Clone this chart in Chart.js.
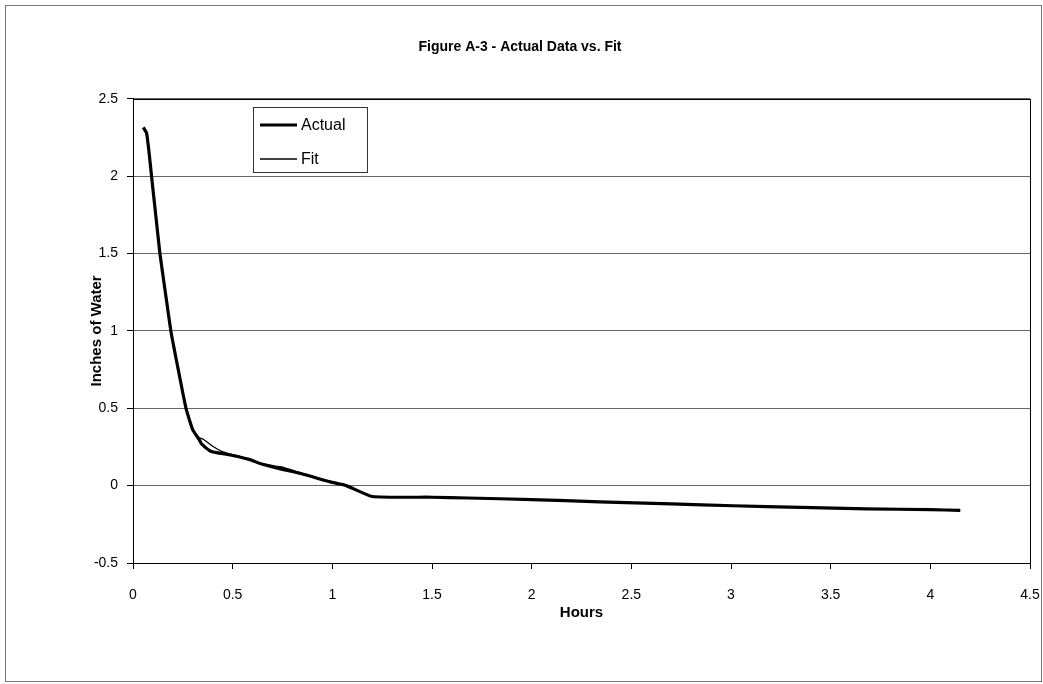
<!DOCTYPE html>
<html><head><meta charset="utf-8">
<script src="https://cdn.jsdelivr.net/npm/chart.js@4"></script>
<style>html,body{margin:0;padding:0;background:#fff;} canvas{display:block;}</style>
</head><body>
<canvas id="c" width="1043" height="684"></canvas>
<script>
const chartTitle = 'Figure A-3 - Actual Data vs. Fit';
const xAxisTitle = 'Hours';
const yAxisTitle = 'Inches of Water';
const seriesNames = ['Actual', 'Fit'];

const actualHours  = [0.052, 0.068, 0.080, 0.093, 0.114, 0.135, 0.160, 0.190, 0.230, 0.266, 0.300, 0.333, 0.344, 0.386, 0.420, 0.500, 0.587, 0.637, 0.740, 0.850, 0.990, 1.070, 1.200, 1.500, 1.680, 2.000, 2.340, 2.700, 3.010, 3.350, 3.680, 4.000, 4.150];
const actualInches = [2.315, 2.280, 2.160, 2.000, 1.750, 1.500, 1.270, 1.000, 0.730, 0.500, 0.360, 0.295, 0.270, 0.225, 0.213, 0.195, 0.168, 0.143, 0.108, 0.075, 0.024, 0.000, -0.070, -0.075, -0.080, -0.090, -0.105, -0.118, -0.130, -0.140, -0.150, -0.155, -0.160];

const fitHours  = [0.052, 0.068, 0.080, 0.093, 0.114, 0.135, 0.160, 0.190, 0.230, 0.266, 0.300, 0.333, 0.353, 0.400, 0.445, 0.500, 0.587, 0.637, 0.740, 0.850, 0.990, 1.070, 1.200, 1.500, 1.680, 2.000, 2.340, 2.700, 3.010, 3.350, 3.680, 4.000, 4.150];
const fitInches = [2.305, 2.270, 2.150, 2.000, 1.750, 1.500, 1.270, 1.000, 0.730, 0.500, 0.360, 0.310, 0.300, 0.255, 0.222, 0.200, 0.170, 0.145, 0.122, 0.080, 0.026, 0.000, -0.068, -0.075, -0.080, -0.090, -0.105, -0.118, -0.130, -0.140, -0.150, -0.155, -0.160];

const FONT = "'Liberation Sans', Arial, sans-serif";

const toPoints = (xs, ys) => xs.map((x, i) => ({x: x, y: ys[i]}));

const framePlugin = {
  id: 'frame',
  afterDraw(chart) {
    const ctx = chart.ctx;
    const a = chart.chartArea;
    ctx.save();
    ctx.strokeStyle = '#000';
    ctx.lineWidth = 1;
    ctx.strokeRect(Math.round(a.left) + 0.5, Math.round(a.top) + 0.5, Math.round(a.right - a.left), Math.round(a.bottom - a.top));
    ctx.strokeStyle = '#777';
    ctx.strokeRect(5.5, 5.5, chart.width - 7, chart.height - 8);
    const bx = 253, by = 107, bw = 114, bh = 65;
    ctx.fillStyle = '#fff';
    ctx.fillRect(bx, by, bw, bh);
    ctx.strokeStyle = '#333';
    ctx.strokeRect(bx + 0.5, by + 0.5, bw, bh);
    ctx.font = '16px ' + FONT;
    ctx.textBaseline = 'middle';
    ctx.textAlign = 'left';
    chart.data.datasets.forEach((ds, i) => {
      const y = by + 18 + i * 34;
      ctx.beginPath();
      ctx.strokeStyle = ds.borderColor;
      ctx.lineWidth = ds.borderWidth;
      ctx.moveTo(bx + 7, y);
      ctx.lineTo(bx + 44, y);
      ctx.stroke();
      ctx.fillStyle = '#000';
      ctx.fillText(ds.label, bx + 48, y + 1);
    });
    ctx.restore();
  }
};

new Chart(document.getElementById('c'), {
  type: 'scatter',
  data: {
    datasets: [
      { label: seriesNames[0], data: toPoints(actualHours, actualInches), showLine: true, borderColor: '#000', borderWidth: 3.2, pointRadius: 0, tension: 0.15, order: 2 },
      { label: seriesNames[1], data: toPoints(fitHours, fitInches), showLine: true, borderColor: '#000', borderWidth: 1.3, pointRadius: 0, tension: 0.15, order: 1 }
    ]
  },
  options: {
    responsive: false,
    animation: false,
    events: [],
    layout: { padding: { left: 10, right: 13, top: 0, bottom: 10 } },
    plugins: {
      legend: { display: false },
      tooltip: { enabled: false },
      title: {
        display: true, text: chartTitle, color: '#000',
        font: { family: FONT, size: 14, weight: 'bold' },
        padding: { top: 39, bottom: 43 }
      }
    },
    scales: {
      x: {
        type: 'linear', min: 0, max: 4.5,
        ticks: { stepSize: 0.5, color: '#000', font: { family: FONT, size: 14 }, padding: 18, maxRotation: 0, callback: v => String(v) },
        grid: { drawOnChartArea: false, drawTicks: true, tickLength: 6, color: '#000' },
        border: { color: '#000' },
        title: { display: true, text: xAxisTitle, color: '#000', font: { family: FONT, size: 15, weight: 'bold' }, padding: { top: 0, bottom: 52 } },
        afterFit: s => { s.height = 111; s.paddingLeft = 0; s.paddingRight = 0; }
      },
      y: {
        min: -0.5, max: 2.5,
        ticks: { stepSize: 0.5, color: '#000', font: { family: FONT, size: 14 }, padding: 9, callback: v => String(v) },
        grid: { color: '#666', tickLength: 6, tickColor: '#000' },
        border: { color: '#000' },
        title: { display: true, text: yAxisTitle, color: '#000', font: { family: FONT, size: 15, weight: 'bold' }, padding: { top: 78, bottom: 0 } },
        afterFit: s => { s.width = 123; }
      }
    }
  },
  plugins: [framePlugin]
});
</script>
</body></html>
